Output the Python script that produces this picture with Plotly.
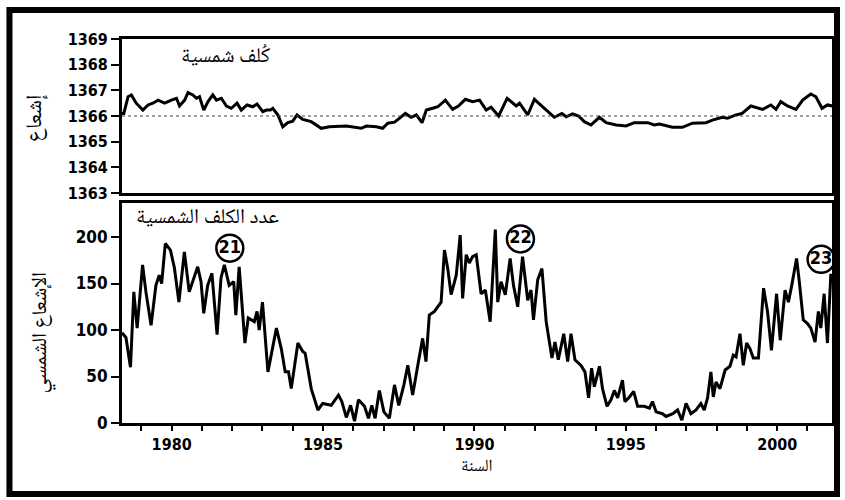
import plotly.graph_objects as go

# ---------------- data ----------------
# Top panel: irradiance (W/m^2)
ir_year = [1978.36, 1978.42, 1978.56, 1978.67, 1978.83, 1979.05, 1979.22, 1979.38, 1979.55, 1979.77,
           1979.99, 1980.16, 1980.26, 1980.43, 1980.54, 1980.70, 1980.82, 1980.92, 1981.06, 1981.20,
           1981.36, 1981.48, 1981.64, 1981.81, 1981.97, 1982.16, 1982.30, 1982.49, 1982.68, 1982.82,
           1983.01, 1983.13, 1983.26, 1983.34, 1983.51, 1983.67, 1983.84, 1984.00, 1984.14, 1984.33,
           1984.61, 1984.94, 1985.21, 1985.77, 1986.26, 1986.43, 1986.76, 1986.97, 1987.14, 1987.36,
           1987.52, 1987.72, 1987.91, 1988.08, 1988.27, 1988.41, 1988.62, 1988.79, 1989.04, 1989.28,
           1989.47, 1989.70, 1989.94, 1990.17, 1990.39, 1990.55, 1990.80, 1991.08, 1991.38, 1991.49,
           1991.76, 1991.98, 1992.31, 1992.64, 1992.89, 1993.03, 1993.24, 1993.44, 1993.63, 1993.85,
           1994.13, 1994.35, 1994.68, 1995.01, 1995.28, 1995.72, 1995.94, 1996.11, 1996.54, 1996.87,
           1997.20, 1997.65, 1997.86, 1998.19, 1998.36, 1998.64, 1998.84, 1999.13, 1999.52, 1999.79,
           1999.96, 2000.12, 2000.34, 2000.62, 2000.84, 2001.11, 2001.28, 2001.48, 2001.66, 2001.83]
ir_value = [1366.10, 1366.10, 1366.75, 1366.82, 1366.50, 1366.23, 1366.43, 1366.50, 1366.62, 1366.50,
            1366.62, 1366.69, 1366.39, 1366.62, 1366.91, 1366.82, 1366.69, 1366.75, 1366.23, 1366.56,
            1366.82, 1366.62, 1366.69, 1366.39, 1366.30, 1366.50, 1366.23, 1366.43, 1366.36, 1366.47,
            1366.17, 1366.23, 1366.23, 1366.30, 1366.04, 1365.58, 1365.74, 1365.80, 1366.04, 1365.87,
            1365.78, 1365.52, 1365.58, 1365.61, 1365.52, 1365.61, 1365.58, 1365.52, 1365.72, 1365.76,
            1365.91, 1366.10, 1365.95, 1366.04, 1365.74, 1366.23, 1366.30, 1366.36, 1366.62, 1366.26,
            1366.39, 1366.65, 1366.56, 1366.62, 1366.23, 1366.34, 1366.00, 1366.69, 1366.39, 1366.50,
            1366.04, 1366.65, 1366.30, 1365.95, 1366.10, 1365.97, 1366.08, 1366.00, 1365.78, 1365.65,
            1365.95, 1365.74, 1365.65, 1365.61, 1365.74, 1365.74, 1365.65, 1365.69, 1365.56, 1365.56,
            1365.72, 1365.74, 1365.84, 1365.95, 1365.91, 1366.04, 1366.10, 1366.39, 1366.26, 1366.43,
            1366.26, 1366.56, 1366.39, 1366.26, 1366.62, 1366.86, 1366.75, 1366.30, 1366.43, 1366.39]

# Bottom panel: sunspot number
ss_year = [1978.36, 1978.42, 1978.49, 1978.64, 1978.75, 1978.86, 1979.04, 1979.15, 1979.32, 1979.48,
           1979.59, 1979.67, 1979.79, 1979.96, 1980.09, 1980.24, 1980.42, 1980.58, 1980.75, 1980.86,
           1980.97, 1981.06, 1981.19, 1981.33, 1981.50, 1981.63, 1981.74, 1981.90, 1982.05, 1982.12,
           1982.23, 1982.42, 1982.53, 1982.73, 1982.82, 1982.89, 1983.00, 1983.18, 1983.46, 1983.62,
           1983.75, 1983.86, 1983.95, 1984.17, 1984.33, 1984.41, 1984.61, 1984.83, 1984.99, 1985.27,
           1985.51, 1985.62, 1985.77, 1985.91, 1986.04, 1986.17, 1986.37, 1986.50, 1986.61, 1986.72,
           1986.86, 1987.01, 1987.19, 1987.36, 1987.50, 1987.67, 1987.80, 1987.96, 1988.13, 1988.29,
           1988.40, 1988.51, 1988.68, 1988.90, 1989.01, 1989.12, 1989.23, 1989.40, 1989.53, 1989.61,
           1989.73, 1989.83, 1989.94, 1990.06, 1990.22, 1990.36, 1990.52, 1990.69, 1990.77, 1990.88,
           1991.02, 1991.18, 1991.29, 1991.43, 1991.59, 1991.76, 1991.87, 1991.95, 1992.09, 1992.23,
           1992.37, 1992.48, 1992.56, 1992.66, 1992.77, 1992.95, 1993.08, 1993.19, 1993.32, 1993.52,
           1993.65, 1993.77, 1993.87, 1993.96, 1994.13, 1994.23, 1994.38, 1994.51, 1994.62, 1994.73,
           1994.89, 1994.97, 1995.12, 1995.26, 1995.39, 1995.61, 1995.78, 1995.88, 1996.00, 1996.21,
           1996.33, 1996.55, 1996.71, 1996.85, 1996.99, 1997.15, 1997.32, 1997.48, 1997.59, 1997.70,
           1997.81, 1997.89, 1997.98, 1998.11, 1998.28, 1998.44, 1998.55, 1998.64, 1998.77, 1998.88,
           1998.99, 1999.10, 1999.21, 1999.38, 1999.55, 1999.68, 1999.81, 1999.98, 2000.10, 2000.26,
           2000.37, 2000.48, 2000.64, 2000.73, 2000.86, 2001.00, 2001.11, 2001.25, 2001.36, 2001.44,
           2001.55, 2001.66, 2001.77, 2001.81]
ss_value = [97, 95, 92, 60, 141, 102, 170, 141, 105, 148,
            159, 150, 193, 186, 167, 130, 184, 141, 159, 168,
            152, 118, 148, 161, 95, 156, 170, 148, 152, 116,
            168, 86, 113, 109, 120, 100, 130, 55, 102, 80,
            55, 55, 37, 86, 77, 75, 37, 14, 21, 19,
            30, 23, 6, 19, 2, 25, 18, 5, 19, 5,
            35, 12, 5, 41, 19, 41, 62, 30, 62, 91,
            66, 116, 120, 130, 186, 166, 138, 159, 202, 134,
            181, 172, 179, 181, 139, 143, 109, 208, 130, 152,
            138, 177, 148, 125, 179, 132, 143, 111, 154, 166,
            109, 84, 70, 87, 68, 96, 66, 96, 68, 62,
            55, 27, 59, 39, 61, 37, 18, 25, 35, 27,
            46, 23, 28, 34, 18, 18, 16, 23, 12, 10,
            7, 10, 14, 3, 21, 10, 14, 21, 14, 27,
            55, 28, 44, 37, 57, 61, 73, 71, 96, 62,
            86, 80, 70, 70, 145, 120, 78, 139, 89, 143,
            130, 148, 177, 152, 111, 107, 102, 87, 120, 102,
            139, 86, 159, 159]

# Solar cycle labels
cycle_labels = ["21", "22", "23"]
cycle_year = [1981.92, 1991.52, 2001.45]
cycle_value = [188, 198, 176]

# Axis ticks
x_tick_years = list(range(1979, 2002))
x_tick_text = [str(y) if y % 5 == 0 else "" for y in x_tick_years]
top_ticks = [1363, 1364, 1365, 1366, 1367, 1368, 1369]
bottom_ticks = [0, 50, 100, 150, 200]

# ---------------- figure ----------------
W, H = 845, 500
ML, MR, MT, MB = 122, 10, 39, 77
PW, PH = W - ML - MR, H - MT - MB


def px_x(p):
    return (p - ML) / PW


def px_y(p):
    return (H - MB - p) / PH


NUM_FAMILY = "Liberation Sans Narrow, DejaVu Sans Condensed, Arial Narrow, sans-serif"
AR_FONT = "Noto Naskh Arabic, DejaVu Sans, Noto Sans, sans-serif"

fig = go.Figure()

fig.add_trace(go.Scatter(x=ir_year, y=ir_value, mode="lines", xaxis="x2", yaxis="y2",
                         line=dict(color="black", width=3), showlegend=False, hoverinfo="skip"))
fig.add_trace(go.Scatter(x=ss_year, y=ss_value, mode="lines", xaxis="x", yaxis="y",
                         line=dict(color="black", width=3), showlegend=False, hoverinfo="skip"))
fig.add_trace(go.Scatter(x=cycle_year, y=cycle_value, mode="markers+text", xaxis="x", yaxis="y",
                         text=cycle_labels, textposition="middle center",
                         textfont=dict(family=NUM_FAMILY, size=18, color="black", weight="bold"),
                         marker=dict(symbol="circle", size=27, color="white",
                                     line=dict(color="black", width=2.5)),
                         showlegend=False, hoverinfo="skip"))

xrange = [1978.36, 2001.81]
top_dom = [px_y(193), 1.0]
bot_dom = [0.0, px_y(203)]

fig.update_layout(
    width=W, height=H,
    margin=dict(l=ML, r=MR, t=MT, b=MB, pad=0),
    paper_bgcolor="white", plot_bgcolor="white",
    xaxis=dict(domain=[0, 1], range=xrange, anchor="y",
               tickmode="array", tickvals=x_tick_years, ticktext=x_tick_text,
               ticks="outside", ticklen=5, tickwidth=2, tickcolor="black",
               showline=True, linewidth=3, linecolor="black", mirror=True,
               showgrid=False, zeroline=False,
               tickfont=dict(family=NUM_FAMILY, size=16, color="black", weight="bold")),
    yaxis=dict(domain=bot_dom, range=[0, 236.6], anchor="x",
               tickmode="array", tickvals=bottom_ticks,
               ticks="outside", ticklen=8, tickwidth=2, tickcolor="black",
               showline=True, linewidth=3, linecolor="black", mirror=True,
               showgrid=False, zeroline=False,
               tickfont=dict(family=NUM_FAMILY, size=17, color="black", weight="bold")),
    xaxis2=dict(domain=[0, 1], range=xrange, anchor="y2", matches="x",
                showticklabels=False, ticks="",
                showline=True, linewidth=2.5, linecolor="black", mirror=True,
                showgrid=False, zeroline=False),
    yaxis2=dict(domain=top_dom, range=[1363, 1369], anchor="x2",
                tickmode="array", tickvals=top_ticks,
                ticks="outside", ticklen=8, tickwidth=2, tickcolor="black",
                showline=True, linewidth=3, linecolor="black", mirror=True,
                showgrid=False, zeroline=False,
                tickfont=dict(family=NUM_FAMILY, size=16, color="black", weight="bold")),
)

# reference line at 1366
fig.add_shape(type="line", xref="x2 domain", yref="y2", x0=0, x1=1, y0=1366, y1=1366,
              line=dict(color="#444", width=1, dash="dot"))

# outer frame
fig.add_shape(type="rect", xref="paper", yref="paper",
              x0=px_x(9), x1=px_x(840), y0=px_y(494), y1=px_y(10),
              line=dict(color="black", width=6), fillcolor="rgba(0,0,0,0)", layer="above")

# texts
def label(text, x, y, size, angle=0):
    fig.add_annotation(text=text, xref="paper", yref="paper", x=px_x(x), y=px_y(y),
                       xanchor="center", yanchor="middle", textangle=angle,
                       showarrow=False, font=dict(family=AR_FONT, size=size, color="black"))


label("كُلف شمسية", 226, 58, 21)
label("عدد الكلف الشمسية", 208, 218, 21)
label("إشعاع", 36, 118, 22, -90)
label("الإشعاع الشمسي", 41, 333, 21, -90)
label("السنة", 479, 467, 17)

fig.write_html("out.html",
               config={"displayModeBar": False},
               post_script="document.body.style.margin='0';document.body.style.padding='0';"
                           "document.documentElement.style.overflow='hidden';")
